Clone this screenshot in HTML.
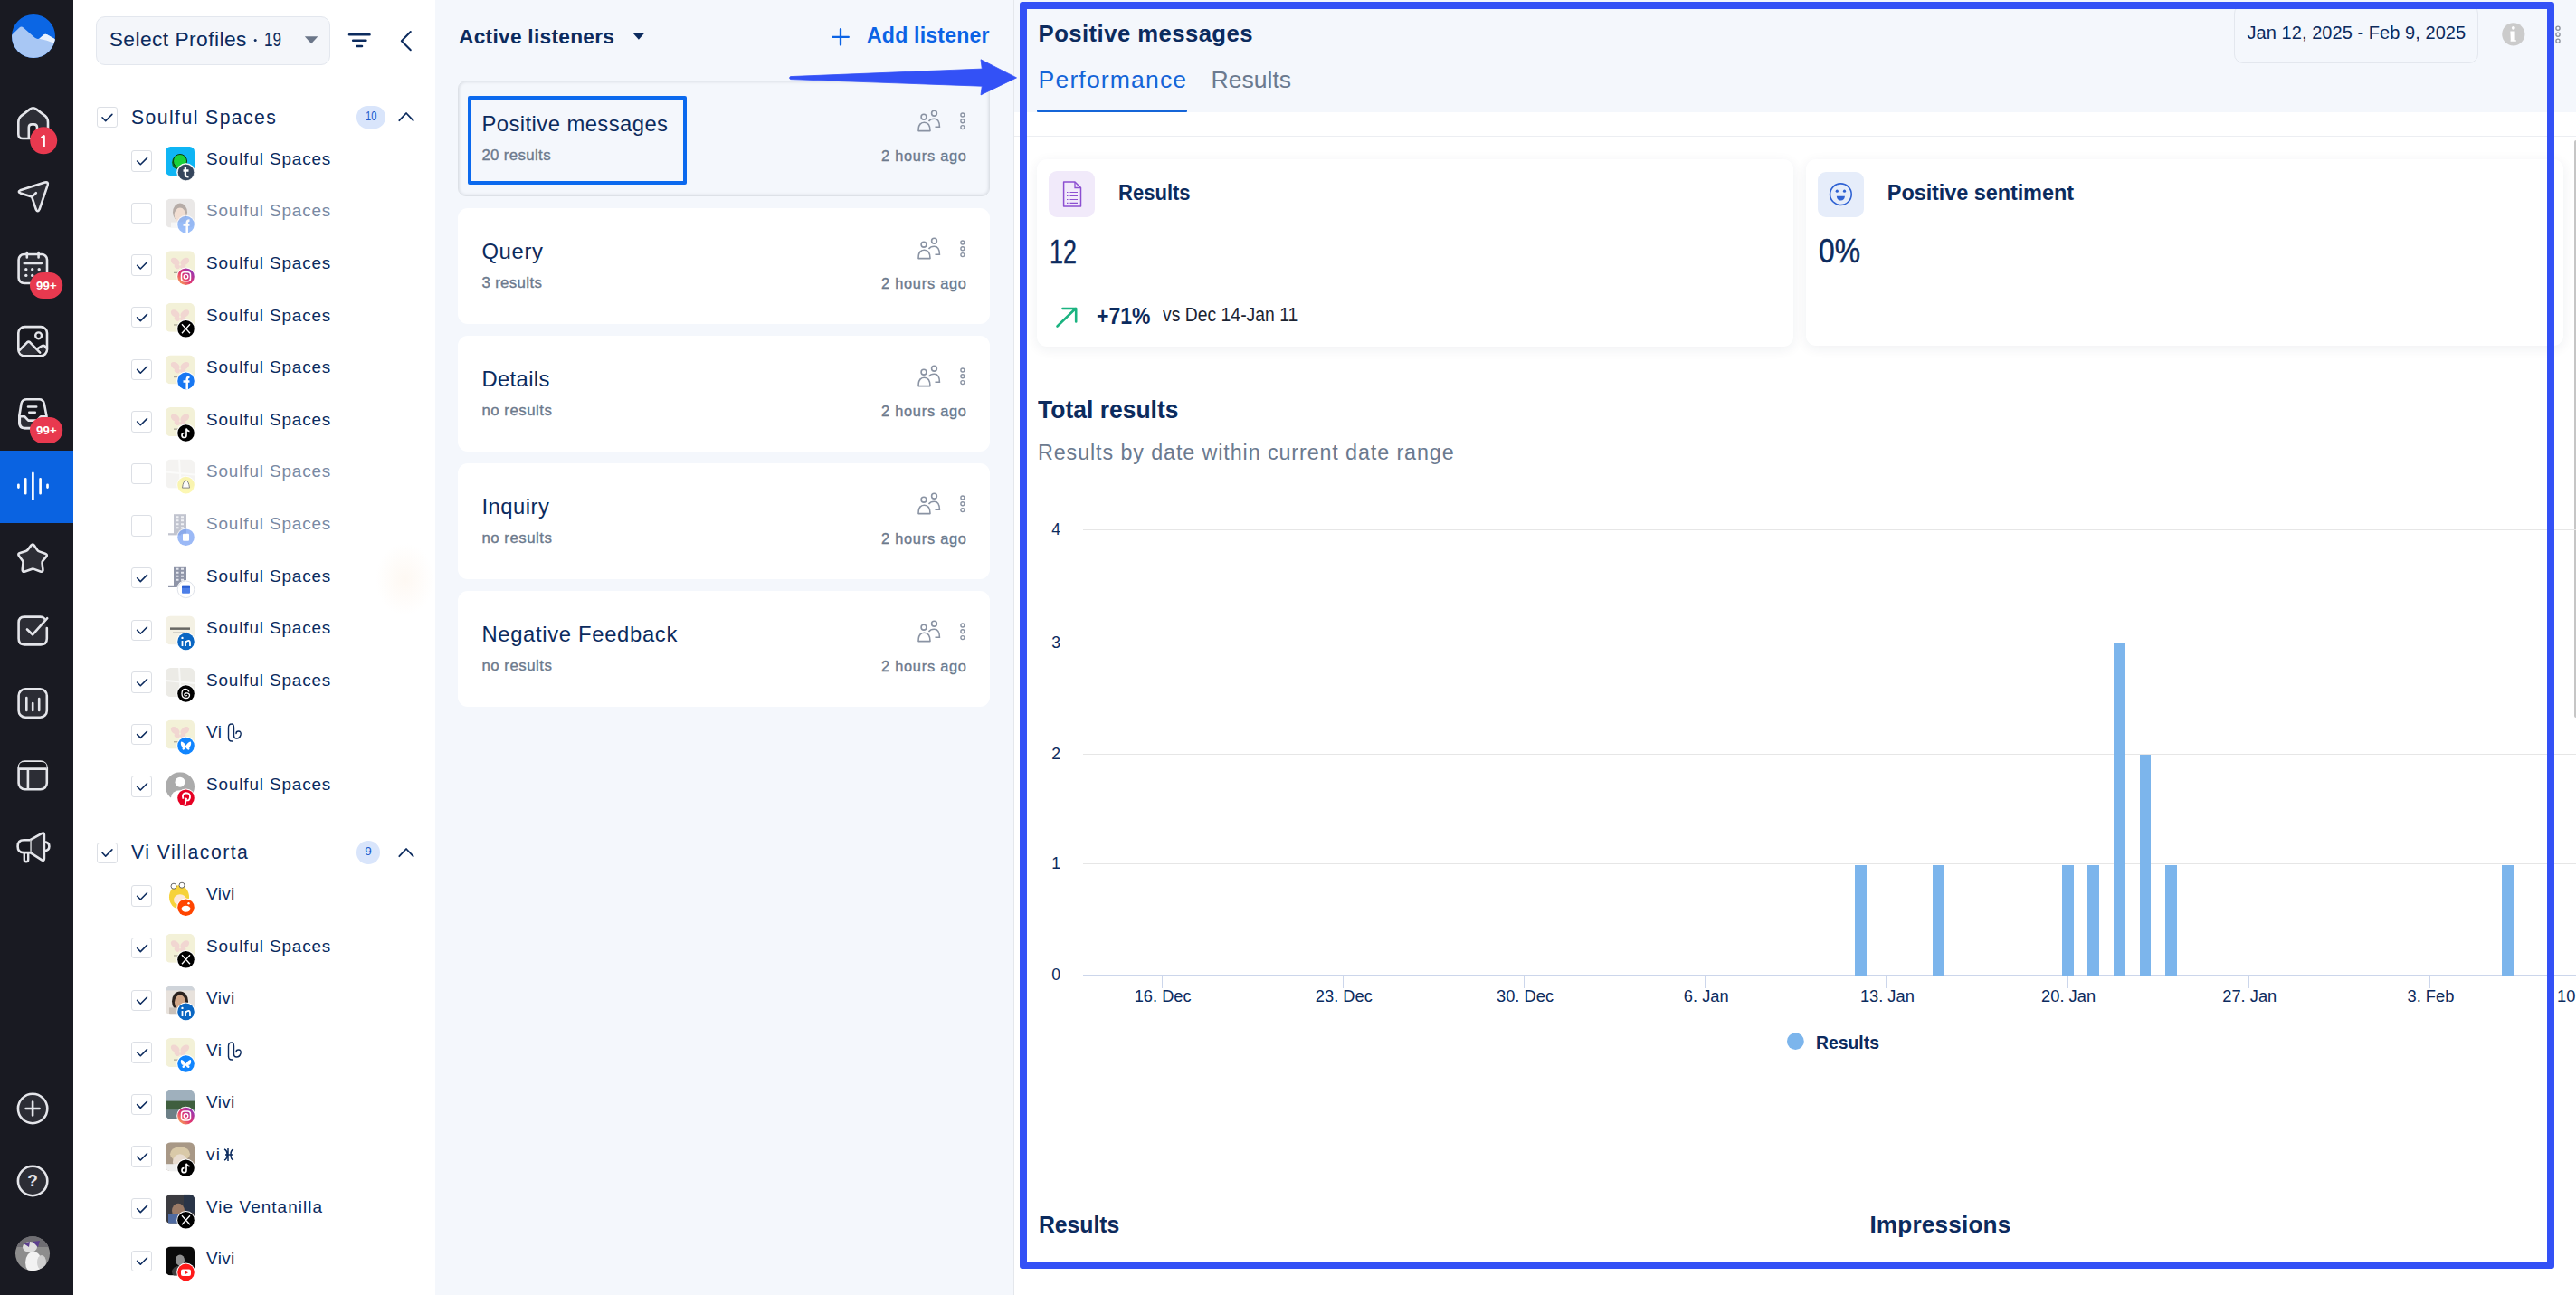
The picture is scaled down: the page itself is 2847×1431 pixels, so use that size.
<!DOCTYPE html>
<html><head><meta charset="utf-8"><style>
html,body{margin:0;padding:0;width:2847px;height:1431px;overflow:hidden;background:#fff;font-family:"Liberation Sans",sans-serif;-webkit-font-smoothing:antialiased}
.t{position:absolute;white-space:nowrap}
.b{position:absolute}
.s{position:absolute;overflow:visible}
</style></head><body>
<div class="b" style="left:0.00px;top:0.00px;width:81.00px;height:1431.00px;background:#191a22"></div>
<svg class="s" style="left:10px;top:13px;" width="54" height="54" viewBox="10 13 54 54">
<defs><clipPath id="lc"><circle cx="37" cy="40" r="24"/></clipPath></defs>
<circle cx="37" cy="40" r="24" fill="#0b66e4"/>
<g clip-path="url(#lc)">
<path d="M10,41 L13.4,38.2 L21.4,30.6 Q23.6,28.6 25.8,30.6 L38.3,41.6 Q41.8,44.2 44.3,42 L47.6,38.9 Q50,37 52.6,38.5 L62,44 L62,70 L10,70 Z" fill="#a8c7f4"/>
<path d="M43.3,42.8 L47.6,38.9 Q50,37 52.6,38.5 L61.5,43.6 L59.8,47.8 Q52,44.2 43.3,42.8 Z" fill="#eaf2fd"/>
</g></svg>
<svg class="s" style="left:10px;top:110px;" width="60" height="60" viewBox="10 110 60 60">
<path d="M20.3,135 Q20.3,131 23,128.4 L33,120.6 Q36.6,117.9 40.2,120.6 L50.3,128.4 Q53,131 53,135 L53,148.3 Q53,153 48.3,153 L25,153 Q20.3,153 20.3,148.3 Z" fill="#2c2d35" stroke="#e4e5ea" stroke-width="2.6" stroke-linejoin="round"/>
<path d="M31.8,153 L31.8,140.8 Q31.8,137.4 35.2,137.4 L37.6,137.4 Q41,137.4 41,140.8 L41,153" fill="#17181f" stroke="#e4e5ea" stroke-width="2.6"/>
<circle cx="48.2" cy="155.3" r="15" fill="#e8394f"/>
<path d="M45.6,152.2 L48.6,150.4 L48.6,162" fill="none" stroke="#fff" stroke-width="2.5" stroke-linejoin="round"/>
</svg>
<svg class="s" style="left:10px;top:190px;" width="60" height="60" viewBox="10 190 60 60">
<path d="M22.3,210.3 L49.5,201.6 Q53.8,200.5 52.6,204.6 L43.6,231.3 Q41.8,235.2 39.8,231.4 L35.2,217.6 L22.6,213.4 Q19.2,211.8 22.3,210.3 Z" fill="#2c2d35" stroke="#e4e5ea" stroke-width="2.6" stroke-linejoin="round"/>
<path d="M35.2,217.6 L39.8,213.2" stroke="#e4e5ea" stroke-width="2.6" stroke-linecap="round"/>
</svg>
<svg class="s" style="left:10px;top:265px;" width="60" height="70" viewBox="10 265 60 70">
<rect x="20.6" y="281" width="31.4" height="32" rx="6" fill="#2c2d35" stroke="#e4e5ea" stroke-width="2.6"/>
<path d="M29.8,279 L29.8,284.5 M42.6,279 L42.6,284.5 M26.8,291 L45.8,291" stroke="#e4e5ea" stroke-width="2.6" stroke-linecap="round"/>
<circle cx="28.8" cy="297.8" r="1.7" fill="#e4e5ea"/><circle cx="35.7" cy="297.8" r="1.7" fill="#e4e5ea"/><circle cx="43.2" cy="297.8" r="1.7" fill="#e4e5ea"/>
<circle cx="28.8" cy="304.4" r="1.7" fill="#e4e5ea"/><circle cx="35.7" cy="304.4" r="1.7" fill="#e4e5ea"/>
<rect x="33" y="301" width="36.2" height="29" rx="14.5" fill="#e8394f"/>
</svg>
<div class="t" style="left:39.90px;top:309.48px;font-size:13.2px;line-height:13.2px;font-weight:700;color:#fff;letter-spacing:0.200px;">99+</div>
<svg class="s" style="left:10px;top:345px;" width="60" height="60" viewBox="10 345 60 60">
<rect x="20.3" y="361.1" width="31.7" height="32.2" rx="7" fill="#17181f" stroke="#e4e5ea" stroke-width="2.6"/>
<path d="M21.5,387 L30,378.3 Q31.6,376.8 33.2,378.3 L44,389.5 L37,392 L27,392 Q22,391.5 21.5,387 Z" fill="#2c2d35"/>
<path d="M43.5,385.5 L46.5,382.8 Q48,381.4 49.6,382.8 L51.3,385 L47.5,390 Z" fill="#2c2d35"/>
<path d="M21.5,387 L30,378.3 Q31.6,376.8 33.2,378.3 L44.2,389.6 M40.5,385.8 L46.5,382.2 Q48,381.2 49.6,382.6 L51.8,385.3" fill="none" stroke="#e4e5ea" stroke-width="2.6" stroke-linecap="round" stroke-linejoin="round"/>
<circle cx="42.6" cy="370.8" r="3.4" fill="none" stroke="#e4e5ea" stroke-width="2.4"/>
</svg>
<svg class="s" style="left:10px;top:425px;" width="60" height="70" viewBox="10 425 60 70">
<path d="M23.5,446 Q24.5,441.3 29.5,441.3 L43.3,441.3 Q47.8,441.3 48.8,446 L51.4,459.5 L51.4,467 Q51.4,473.3 45,473.3 L27.5,473.3 Q21.3,473.3 21.3,467 L21.3,459.5 Z" fill="#17181f" stroke="#e4e5ea" stroke-width="2.6" stroke-linejoin="round"/>
<path d="M21.8,460.3 L27.3,460.3 L31.3,464.6 L41,464.6 L45,460.3 L51,460.3 L51,467 Q51,473 45,473 L27.5,473 Q21.8,473 21.8,467 Z" fill="#2c2d35" stroke="#e4e5ea" stroke-width="2.6" stroke-linejoin="round"/>
<path d="M31,449.5 L40.2,449.5 M32.3,455.8 L38.8,455.8" stroke="#e4e5ea" stroke-width="2.6" stroke-linecap="round"/>
<rect x="33" y="461" width="36.2" height="29" rx="14.5" fill="#e8394f"/>
</svg>
<div class="t" style="left:39.90px;top:469.48px;font-size:13.2px;line-height:13.2px;font-weight:700;color:#fff;letter-spacing:0.200px;">99+</div>
<div class="b" style="left:0.00px;top:498.00px;width:81.00px;height:80.00px;background:#0a63e1"></div>
<svg class="s" style="left:10px;top:510px;" width="60" height="55" viewBox="10 510 60 55">
<path d="M20.4,535.8 L20.4,538.6 M28.2,529.3 L28.2,545.2 M36.4,522.8 L36.4,551.8 M44.6,529.3 L44.6,545.2 M52.5,535.8 L52.5,538.6" stroke="#fff" stroke-width="2.7" stroke-linecap="round"/>
</svg>
<svg class="s" style="left:10px;top:590px;" width="60" height="55" viewBox="10 590 60 55">
<path d="M34.41,602.62 Q36.20,600.30 37.82,602.71 L41.30,607.87 Q42.00,608.90 43.32,609.37 L49.92,611.71 Q53.00,612.80 51.15,615.07 L47.19,619.93 Q46.40,620.90 46.57,622.30 L47.41,629.32 Q47.80,632.60 44.55,631.42 L37.59,628.90 Q36.20,628.40 34.78,628.90 L27.70,631.42 Q24.40,632.60 24.74,629.24 L25.46,622.04 Q25.60,620.60 24.83,619.56 L20.99,614.34 Q19.20,611.90 22.17,610.98 L28.53,609.00 Q29.80,608.60 30.57,607.60 Z" fill="#2c2d35" stroke="#e4e5ea" stroke-width="2.6" stroke-linejoin="round"/>
</svg>
<svg class="s" style="left:10px;top:670px;" width="60" height="55" viewBox="10 670 60 55">
<path d="M49,683.5 Q47.5,681.6 44.5,681.6 L27,681.6 Q20.6,681.6 20.6,688 L20.6,705.6 Q20.6,712.4 27,712.4 L45,712.4 Q51.8,712.4 51.8,705.6 L51.8,694" fill="#2c2d35" stroke="#e4e5ea" stroke-width="2.6" stroke-linecap="round"/>
<path d="M30,695.5 L36,701.3 L52.2,683.2" fill="none" stroke="#e4e5ea" stroke-width="2.6" stroke-linecap="round" stroke-linejoin="round"/>
</svg>
<svg class="s" style="left:10px;top:750px;" width="60" height="55" viewBox="10 750 60 55">
<rect x="20.6" y="761.3" width="31.2" height="31.4" rx="7.5" fill="#2c2d35" stroke="#e4e5ea" stroke-width="2.6"/>
<path d="M29.3,771 L29.3,785 M36.2,777 L36.2,785 M43.2,772 L43.2,785" stroke="#e4e5ea" stroke-width="2.6" stroke-linecap="round"/>
</svg>
<svg class="s" style="left:10px;top:830px;" width="60" height="55" viewBox="10 830 60 55">
<rect x="20.6" y="841.6" width="31.2" height="30.7" rx="7" fill="#2c2d35" stroke="#e4e5ea" stroke-width="2.6"/>
<path d="M21,849.6 L51.5,849.6" stroke="#e4e5ea" stroke-width="2.6"/>
<path d="M21,847 Q21,842 27,842 L45.5,842 Q51.5,842 51.5,847 L51.5,849.6 L21,849.6 Z" fill="#17181f"/>
<path d="M21,849.6 L51.5,849.6 M30.9,849.6 L30.9,872" stroke="#e4e5ea" stroke-width="2.6"/>
</svg>
<svg class="s" style="left:10px;top:910px;" width="60" height="55" viewBox="10 910 60 55">
<path d="M33.4,928.2 L46.3,920.9 Q48.9,919.6 48.9,922.6 L48.9,948.7 Q48.9,951.7 46.3,950.3 L33.4,942.1 Z" fill="#2c2d35" stroke="#e4e5ea" stroke-width="2.6" stroke-linejoin="round"/>
<path d="M33.4,928.2 L26.3,928.2 Q19.6,928.2 19.6,935.15 Q19.6,942.1 26.3,942.1 L33.4,942.1" fill="#17181f" stroke="#e4e5ea" stroke-width="2.6" stroke-linejoin="round"/>
<path d="M26.8,942.6 L26.8,950 Q26.8,952.2 29,952.2 Q31.2,952.2 31.2,950 L31.2,942.6" fill="none" stroke="#e4e5ea" stroke-width="2.4"/>
<path d="M48.9,930.4 Q54.4,930.6 54.4,935.3 Q54.4,940 48.9,940.2" fill="none" stroke="#e4e5ea" stroke-width="2.6"/>
</svg>
<svg class="s" style="left:10px;top:1200px;" width="60" height="130" viewBox="10 1200 60 130">
<circle cx="36.1" cy="1225" r="16.2" fill="#2c2d35" stroke="#e4e5ea" stroke-width="2.6"/>
<path d="M36.1,1217.5 L36.1,1232.5 M28.6,1225 L43.6,1225" stroke="#e4e5ea" stroke-width="2.6" stroke-linecap="round"/>
<circle cx="36.1" cy="1305" r="16.2" fill="#2c2d35" stroke="#e4e5ea" stroke-width="2.6"/>
</svg>
<div class="t" style="left:30.30px;top:1294.85px;font-size:19px;line-height:19px;font-weight:700;color:#e4e5ea;letter-spacing:0.000px;">?</div>
<svg class="s" style="left:10px;top:1360px;" width="60" height="50" viewBox="10 1360 60 50">
<defs><clipPath id="avc"><circle cx="36" cy="1385.2" r="19"/></clipPath></defs>
<circle cx="36" cy="1385.2" r="19" fill="#8d8d8d"/>
<g clip-path="url(#avc)">
<rect x="17" y="1366" width="38" height="12" fill="#6f6e73"/>
<ellipse cx="37" cy="1395" rx="9" ry="12" fill="#f2f2f2"/>
<ellipse cx="33" cy="1378" rx="8" ry="6" fill="#dedede"/>
<path d="M26,1374 L33,1372 L32,1378 Z M36,1372 L44,1371 L42,1378 Z" fill="#5b3e8e"/>
<ellipse cx="46" cy="1395" rx="5" ry="8" fill="#cfcfcf"/>
</g></svg>
<div class="b" style="left:81.00px;top:0.00px;width:400.00px;height:1431.00px;background:#ffffff"></div>
<div class="b" style="left:106.00px;top:18.00px;width:259.00px;height:54.00px;background:#f4f6fa;border:1px solid #e3e7ee;border-radius:10px;box-sizing:border-box"></div>
<div class="t" style="left:120.70px;top:32.32px;font-size:22.8px;line-height:22.8px;font-weight:400;color:#0c2b5e;letter-spacing:0.432px;">Select Profiles</div>
<svg class="s" style="left:278px;top:40px;" width="10" height="10" viewBox="278 40 10 10"><circle cx="282.2" cy="44.6" r="1.5" fill="#0c2b5e"/></svg>
<div class="t" style="left:292.00px;top:32.32px;font-size:22.8px;line-height:22.8px;font-weight:400;color:#0c2b5e;letter-spacing:0.000px;transform:scaleX(0.7495);transform-origin:0 0;">19</div>
<svg class="s" style="left:330px;top:35px;" width="30" height="20" viewBox="330 35 30 20"><path d="M336.8,40.2 L351.4,40.2 L344.1,48.2 Z" fill="#6b7689"/></svg>
<svg class="s" style="left:380px;top:30px;" width="80" height="30" viewBox="380 30 80 30">
<path d="M386,38.2 L408.5,38.2 M390.2,44.7 L404.4,44.7 M394.5,51 L400,51" stroke="#0c2b5e" stroke-width="2.6" stroke-linecap="round"/>
<path d="M453.8,35 L443.8,45.2 L453.8,55.2" fill="none" stroke="#0c2b5e" stroke-width="2" stroke-linecap="round" stroke-linejoin="round"/>
</svg>
<div class="b" style="left:106.70px;top:118.00px;width:23.20px;height:23.40px;border:1px solid #dcdfe5;border-radius:3px;box-sizing:border-box;background:#fff"></div><svg class="s" style="left:106px;top:118px;" width="25" height="25" viewBox="106 118 25 25"><path d="M113.0,129.8 L116.7,133.6 L123.9,126.4" fill="none" stroke="#0c2b5e" stroke-width="1.55" stroke-linecap="round" stroke-linejoin="round"/></svg><div class="t" style="left:145.00px;top:118.58px;font-size:21.2px;line-height:21.2px;font-weight:400;color:#0c2b5e;letter-spacing:1.427px;">Soulful Spaces</div><div class="b" style="left:394.00px;top:117.00px;width:32.00px;height:24.60px;background:#d9e5fb;border-radius:12.3px"></div><div class="t" style="left:403.80px;top:121.49px;font-size:14.6px;line-height:14.6px;font-weight:400;color:#1d5bcc;letter-spacing:0.000px;transform:scaleX(0.7631);transform-origin:0 0;">10</div><svg class="s" style="left:436px;top:118px;" width="26" height="20" viewBox="436 118 26 20"><path d="M441.3,133.2 L449,125 L456.7,133.2" fill="none" stroke="#0c2b5e" stroke-width="1.8" stroke-linecap="round" stroke-linejoin="round"/></svg>
<div class="b" style="left:106.70px;top:930.50px;width:23.20px;height:23.40px;border:1px solid #dcdfe5;border-radius:3px;box-sizing:border-box;background:#fff"></div><svg class="s" style="left:106px;top:930px;" width="25" height="25" viewBox="106 930 25 25"><path d="M113.0,942.3 L116.7,946.1 L123.9,938.9" fill="none" stroke="#0c2b5e" stroke-width="1.55" stroke-linecap="round" stroke-linejoin="round"/></svg><div class="t" style="left:145.00px;top:931.08px;font-size:21.2px;line-height:21.2px;font-weight:400;color:#0c2b5e;letter-spacing:1.483px;">Vi Villacorta</div><div class="b" style="left:394.30px;top:929.00px;width:25.40px;height:25.50px;background:#d9e5fb;border-radius:50%"></div><div class="t" style="left:403.25px;top:934.12px;font-size:13.5px;line-height:13.5px;font-weight:400;color:#1d5bcc;letter-spacing:0.000px;">9</div><svg class="s" style="left:436px;top:930.5px;" width="26" height="20" viewBox="436 930.5 26 20"><path d="M441.3,945.7 L449,937.5 L456.7,945.7" fill="none" stroke="#0c2b5e" stroke-width="1.8" stroke-linecap="round" stroke-linejoin="round"/></svg>
<div class="b" style="left:145.30px;top:166.20px;width:23.20px;height:23.40px;border:1px solid #dcdfe5;border-radius:3px;box-sizing:border-box;background:#fff"></div><svg class="s" style="left:145px;top:166px;" width="25" height="25" viewBox="145 166 25 25"><path d="M151.60000000000002,178.0 L155.3,181.79999999999998 L162.5,174.6" fill="none" stroke="#0c2b5e" stroke-width="1.55" stroke-linecap="round" stroke-linejoin="round"/></svg><svg class="s" style="left:183px;top:162px;" width="34" height="34" viewBox="183 162 34 34"><defs><clipPath id="avc162"><rect x="183" y="162.0" width="32" height="32" rx="5.5"/></clipPath></defs><g clip-path="url(#avc162)"><rect x="183" y="162.0" width="32" height="32" fill="#0fb5f4"/><circle cx="198" cy="179.5" r="8" fill="#0e6e1d"/><circle cx="199" cy="178.0" r="7.5" fill="#1ad13a" stroke="#0a3a10" stroke-width="1"/></g></svg><svg class="s" style="left:194px;top:179px;" width="22" height="22" viewBox="194 179 22 22"><circle cx="205.5" cy="190.5" r="10.3" fill="#fff"/><circle cx="205.5" cy="190.5" r="9.3" fill="#36465d" stroke="#fff" stroke-width="0.8"/><path d="M204.9,185.0 L204.9,193.0 Q204.9,195.5 208.5,195.3 M202.5,188.5 L208.5,188.5" fill="none" stroke="#fff" stroke-width="2.3"/></svg><div class="t" style="left:228.00px;top:166.73px;font-size:18.9px;line-height:18.9px;font-weight:400;color:#0c2b5e;letter-spacing:0.869px;">Soulful Spaces</div><div class="b" style="left:145.30px;top:223.80px;width:23.20px;height:23.40px;border:1px solid #dcdfe5;border-radius:3px;box-sizing:border-box;background:#fff"></div><svg class="s" style="opacity:0.55;left:183px;top:219px;" width="34" height="34" viewBox="183 219 34 34"><defs><clipPath id="avc219"><rect x="183" y="219.6" width="32" height="32" rx="5.5"/></clipPath></defs><g clip-path="url(#avc219)"><rect x="183" y="219.6" width="32" height="32" fill="#d9d7d5"/><ellipse cx="199" cy="234.6" rx="8" ry="10" fill="#7b6a60"/><ellipse cx="199" cy="237.6" rx="6.3" ry="8" fill="#e6c4ae"/><rect x="189" y="245.6" width="20" height="8" fill="#f0efef"/></g></svg><svg class="s" style="opacity:0.75;left:194px;top:237px;" width="22" height="22" viewBox="194 237 22 22"><circle cx="205.5" cy="248.1" r="10.3" fill="#fff"/><circle cx="205.5" cy="248.1" r="9.3" fill="#7aa9f7"/><path d="M206.7,257.3 L206.7,246.6 Q206.7,243.6 209.5,243.6 M202.5,248.6 L209.5,248.6" fill="none" stroke="#fff" stroke-width="2.5"/></svg><div class="t" style="left:228.00px;top:224.33px;font-size:18.9px;line-height:18.9px;font-weight:400;color:#7a89a3;letter-spacing:0.869px;">Soulful Spaces</div><div class="b" style="left:145.30px;top:281.40px;width:23.20px;height:23.40px;border:1px solid #dcdfe5;border-radius:3px;box-sizing:border-box;background:#fff"></div><svg class="s" style="left:145px;top:281px;" width="25" height="25" viewBox="145 281 25 25"><path d="M151.60000000000002,293.2 L155.3,297.0 L162.5,289.79999999999995" fill="none" stroke="#0c2b5e" stroke-width="1.55" stroke-linecap="round" stroke-linejoin="round"/></svg><svg class="s" style="left:183px;top:277px;" width="34" height="34" viewBox="183 277 34 34"><defs><clipPath id="avc277"><rect x="183" y="277.2" width="32" height="32" rx="5.5"/></clipPath></defs><g clip-path="url(#avc277)"><rect x="183" y="277.2" width="32" height="32" fill="#f3f1d8"/><g opacity="0.55" fill="#eebfcd"><ellipse cx="193.7" cy="289.0" rx="5.4" ry="3.6" transform="rotate(35 193.7 289.0)"/><ellipse cx="204.3" cy="289.0" rx="5.4" ry="3.6" transform="rotate(-35 204.3 289.0)"/><ellipse cx="195.8" cy="294.4" rx="3.2" ry="2.6" transform="rotate(30 195.8 294.4)"/><ellipse cx="202.2" cy="294.4" rx="3.2" ry="2.6" transform="rotate(-30 202.2 294.4)"/></g><rect x="192" y="300.7" width="9" height="1.3" fill="#7d7a6c" opacity="0.6"/></g></svg><svg class="s" style="left:194px;top:294px;" width="22" height="22" viewBox="194 294 22 22"><circle cx="205.5" cy="305.7" r="10.3" fill="#fff"/><defs><linearGradient id="ig305" x1="0" y1="1" x2="1" y2="0"><stop offset="0" stop-color="#fdc151"/><stop offset="0.45" stop-color="#e3366f"/><stop offset="1" stop-color="#7a35c9"/></linearGradient></defs><circle cx="205.5" cy="305.7" r="9.3" fill="url(#ig305)"/><rect x="200.5" y="300.7" width="10" height="10" rx="3" fill="none" stroke="#fff" stroke-width="1.5"/><circle cx="205.5" cy="305.7" r="2.3" fill="none" stroke="#fff" stroke-width="1.4"/></svg><div class="t" style="left:228.00px;top:281.94px;font-size:18.9px;line-height:18.9px;font-weight:400;color:#0c2b5e;letter-spacing:0.869px;">Soulful Spaces</div><div class="b" style="left:145.30px;top:339.00px;width:23.20px;height:23.40px;border:1px solid #dcdfe5;border-radius:3px;box-sizing:border-box;background:#fff"></div><svg class="s" style="left:145px;top:339px;" width="25" height="25" viewBox="145 339 25 25"><path d="M151.60000000000002,350.8 L155.3,354.6 L162.5,347.4" fill="none" stroke="#0c2b5e" stroke-width="1.55" stroke-linecap="round" stroke-linejoin="round"/></svg><svg class="s" style="left:183px;top:334px;" width="34" height="34" viewBox="183 334 34 34"><defs><clipPath id="avc334"><rect x="183" y="334.8" width="32" height="32" rx="5.5"/></clipPath></defs><g clip-path="url(#avc334)"><rect x="183" y="334.8" width="32" height="32" fill="#f3f1d8"/><g opacity="0.55" fill="#eebfcd"><ellipse cx="193.7" cy="346.6" rx="5.4" ry="3.6" transform="rotate(35 193.7 346.6)"/><ellipse cx="204.3" cy="346.6" rx="5.4" ry="3.6" transform="rotate(-35 204.3 346.6)"/><ellipse cx="195.8" cy="352.0" rx="3.2" ry="2.6" transform="rotate(30 195.8 352.0)"/><ellipse cx="202.2" cy="352.0" rx="3.2" ry="2.6" transform="rotate(-30 202.2 352.0)"/></g><rect x="192" y="358.3" width="9" height="1.3" fill="#7d7a6c" opacity="0.6"/></g></svg><svg class="s" style="left:194px;top:352px;" width="22" height="22" viewBox="194 352 22 22"><circle cx="205.5" cy="363.3" r="10.3" fill="#fff"/><circle cx="205.5" cy="363.3" r="9.3" fill="#000"/><path d="M201.0,358.3 L210.0,368.3 M210.0,358.3 L201.0,368.3" stroke="#fff" stroke-width="1.3"/></svg><div class="t" style="left:228.00px;top:339.54px;font-size:18.9px;line-height:18.9px;font-weight:400;color:#0c2b5e;letter-spacing:0.869px;">Soulful Spaces</div><div class="b" style="left:145.30px;top:396.60px;width:23.20px;height:23.40px;border:1px solid #dcdfe5;border-radius:3px;box-sizing:border-box;background:#fff"></div><svg class="s" style="left:145px;top:396px;" width="25" height="25" viewBox="145 396 25 25"><path d="M151.60000000000002,408.40000000000003 L155.3,412.20000000000005 L162.5,405.0" fill="none" stroke="#0c2b5e" stroke-width="1.55" stroke-linecap="round" stroke-linejoin="round"/></svg><svg class="s" style="left:183px;top:392px;" width="34" height="34" viewBox="183 392 34 34"><defs><clipPath id="avc392"><rect x="183" y="392.40000000000003" width="32" height="32" rx="5.5"/></clipPath></defs><g clip-path="url(#avc392)"><rect x="183" y="392.40000000000003" width="32" height="32" fill="#f3f1d8"/><g opacity="0.55" fill="#eebfcd"><ellipse cx="193.7" cy="404.20000000000005" rx="5.4" ry="3.6" transform="rotate(35 193.7 404.20000000000005)"/><ellipse cx="204.3" cy="404.20000000000005" rx="5.4" ry="3.6" transform="rotate(-35 204.3 404.20000000000005)"/><ellipse cx="195.8" cy="409.6" rx="3.2" ry="2.6" transform="rotate(30 195.8 409.6)"/><ellipse cx="202.2" cy="409.6" rx="3.2" ry="2.6" transform="rotate(-30 202.2 409.6)"/></g><rect x="192" y="415.90000000000003" width="9" height="1.3" fill="#7d7a6c" opacity="0.6"/></g></svg><svg class="s" style="left:194px;top:409px;" width="22" height="22" viewBox="194 409 22 22"><circle cx="205.5" cy="420.90000000000003" r="10.3" fill="#fff"/><circle cx="205.5" cy="420.90000000000003" r="9.3" fill="#1877f2"/><path d="M206.7,430.1 L206.7,419.40000000000003 Q206.7,416.40000000000003 209.5,416.40000000000003 M202.5,421.40000000000003 L209.5,421.40000000000003" fill="none" stroke="#fff" stroke-width="2.5"/></svg><div class="t" style="left:228.00px;top:397.14px;font-size:18.9px;line-height:18.9px;font-weight:400;color:#0c2b5e;letter-spacing:0.869px;">Soulful Spaces</div><div class="b" style="left:145.30px;top:454.20px;width:23.20px;height:23.40px;border:1px solid #dcdfe5;border-radius:3px;box-sizing:border-box;background:#fff"></div><svg class="s" style="left:145px;top:454px;" width="25" height="25" viewBox="145 454 25 25"><path d="M151.60000000000002,466.0 L155.3,469.8 L162.5,462.59999999999997" fill="none" stroke="#0c2b5e" stroke-width="1.55" stroke-linecap="round" stroke-linejoin="round"/></svg><svg class="s" style="left:183px;top:450px;" width="34" height="34" viewBox="183 450 34 34"><defs><clipPath id="avc450"><rect x="183" y="450.0" width="32" height="32" rx="5.5"/></clipPath></defs><g clip-path="url(#avc450)"><rect x="183" y="450.0" width="32" height="32" fill="#f3f1d8"/><g opacity="0.55" fill="#eebfcd"><ellipse cx="193.7" cy="461.8" rx="5.4" ry="3.6" transform="rotate(35 193.7 461.8)"/><ellipse cx="204.3" cy="461.8" rx="5.4" ry="3.6" transform="rotate(-35 204.3 461.8)"/><ellipse cx="195.8" cy="467.2" rx="3.2" ry="2.6" transform="rotate(30 195.8 467.2)"/><ellipse cx="202.2" cy="467.2" rx="3.2" ry="2.6" transform="rotate(-30 202.2 467.2)"/></g><rect x="192" y="473.5" width="9" height="1.3" fill="#7d7a6c" opacity="0.6"/></g></svg><svg class="s" style="left:194px;top:467px;" width="22" height="22" viewBox="194 467 22 22"><circle cx="205.5" cy="478.5" r="10.3" fill="#fff"/><circle cx="205.5" cy="478.5" r="9.3" fill="#000"/><path d="M206.0,473.5 L206.0,481.0 Q206.0,483.5 203.5,483.5 Q201.0,483.5 201.0,481.0 Q201.0,478.5 203.5,478.5 M206.0,473.5 Q207.0,476.5 209.5,476.5" fill="none" stroke="#fff" stroke-width="1.7"/></svg><div class="t" style="left:228.00px;top:454.74px;font-size:18.9px;line-height:18.9px;font-weight:400;color:#0c2b5e;letter-spacing:0.869px;">Soulful Spaces</div><div class="b" style="left:145.30px;top:511.80px;width:23.20px;height:23.40px;border:1px solid #dcdfe5;border-radius:3px;box-sizing:border-box;background:#fff"></div><svg class="s" style="opacity:0.55;left:183px;top:507px;" width="34" height="34" viewBox="183 507 34 34"><defs><clipPath id="avc507"><rect x="183" y="507.6" width="32" height="32" rx="5.5"/></clipPath></defs><g clip-path="url(#avc507)"><rect x="183" y="507.6" width="32" height="32" fill="#ecebe6"/><path d="M183,521.6 L215,524.6 M198,507.6 L200,539.6" stroke="#f8f8f6" stroke-width="2"/></g></svg><svg class="s" style="opacity:0.75;left:194px;top:525px;" width="22" height="22" viewBox="194 525 22 22"><circle cx="205.5" cy="536.1" r="10.3" fill="#fff"/><circle cx="205.5" cy="536.1" r="9.3" fill="#fbf59a"/><path d="M201.5,539.1 Q202.5,531.1 205.5,531.1 Q208.5,531.1 209.5,539.1 L201.5,539.1 Z" fill="#fff" stroke="#555" stroke-width="0.9"/></svg><div class="t" style="left:228.00px;top:512.34px;font-size:18.9px;line-height:18.9px;font-weight:400;color:#7a89a3;letter-spacing:0.869px;">Soulful Spaces</div><div class="b" style="left:145.30px;top:569.40px;width:23.20px;height:23.40px;border:1px solid #dcdfe5;border-radius:3px;box-sizing:border-box;background:#fff"></div><svg class="s" style="opacity:0.55;left:183px;top:565px;" width="34" height="34" viewBox="183 565 34 34"><defs><clipPath id="avc565"><rect x="183" y="565.1999999999999" width="32" height="32" rx="5.5"/></clipPath></defs><g clip-path="url(#avc565)"><rect x="183" y="565.1999999999999" width="32" height="32" fill="#ffffff"/><rect x="192" y="568.1999999999999" width="14" height="22" fill="#8f95a8"/><path d="M194.5,571.1999999999999 h3 M200,571.1999999999999 h3 M194.5,575.1999999999999 h3 M200,575.1999999999999 h3 M194.5,579.1999999999999 h3 M200,579.1999999999999 h3 M194.5,583.1999999999999 h3 M200,583.1999999999999 h3" stroke="#e5e7ee" stroke-width="2"/><rect x="186" y="589.1999999999999" width="14" height="2.2" fill="#8f95a8"/></g></svg><svg class="s" style="opacity:0.75;left:194px;top:582px;" width="22" height="22" viewBox="194 582 22 22"><circle cx="205.5" cy="593.6999999999999" r="10.3" fill="#fff"/><circle cx="205.5" cy="593.6999999999999" r="9.3" fill="#7aa2f4"/><rect x="202.0" y="589.6999999999999" width="7" height="8" rx="1" fill="#fff"/></svg><div class="t" style="left:228.00px;top:569.93px;font-size:18.9px;line-height:18.9px;font-weight:400;color:#7a89a3;letter-spacing:0.869px;">Soulful Spaces</div><div class="b" style="left:145.30px;top:627.00px;width:23.20px;height:23.40px;border:1px solid #dcdfe5;border-radius:3px;box-sizing:border-box;background:#fff"></div><svg class="s" style="left:145px;top:627px;" width="25" height="25" viewBox="145 627 25 25"><path d="M151.60000000000002,638.8 L155.3,642.6 L162.5,635.4" fill="none" stroke="#0c2b5e" stroke-width="1.55" stroke-linecap="round" stroke-linejoin="round"/></svg><svg class="s" style="left:183px;top:622px;" width="34" height="34" viewBox="183 622 34 34"><defs><clipPath id="avc622"><rect x="183" y="622.8" width="32" height="32" rx="5.5"/></clipPath></defs><g clip-path="url(#avc622)"><rect x="183" y="622.8" width="32" height="32" fill="#ffffff"/><rect x="192" y="625.8" width="14" height="22" fill="#8f95a8"/><path d="M194.5,628.8 h3 M200,628.8 h3 M194.5,632.8 h3 M200,632.8 h3 M194.5,636.8 h3 M200,636.8 h3 M194.5,640.8 h3 M200,640.8 h3" stroke="#e5e7ee" stroke-width="2"/><rect x="186" y="646.8" width="14" height="2.2" fill="#8f95a8"/></g></svg><svg class="s" style="left:194px;top:640px;" width="22" height="22" viewBox="194 640 22 22"><circle cx="205.5" cy="651.3" r="10.3" fill="#fff"/><circle cx="205.5" cy="651.3" r="9.3" fill="#fff" stroke="#dfe3ea" stroke-width="1"/><rect x="201.0" y="646.8" width="9" height="9" rx="1" fill="#4d7fe8"/><rect x="201.0" y="646.8" width="9" height="3" fill="#2b5fd0"/></svg><div class="t" style="left:228.00px;top:627.54px;font-size:18.9px;line-height:18.9px;font-weight:400;color:#0c2b5e;letter-spacing:0.869px;">Soulful Spaces</div><div class="b" style="left:145.30px;top:684.60px;width:23.20px;height:23.40px;border:1px solid #dcdfe5;border-radius:3px;box-sizing:border-box;background:#fff"></div><svg class="s" style="left:145px;top:684px;" width="25" height="25" viewBox="145 684 25 25"><path d="M151.60000000000002,696.3999999999999 L155.3,700.1999999999999 L162.5,692.9999999999999" fill="none" stroke="#0c2b5e" stroke-width="1.55" stroke-linecap="round" stroke-linejoin="round"/></svg><svg class="s" style="left:183px;top:680px;" width="34" height="34" viewBox="183 680 34 34"><defs><clipPath id="avc680"><rect x="183" y="680.3999999999999" width="32" height="32" rx="5.5"/></clipPath></defs><g clip-path="url(#avc680)"><rect x="183" y="680.3999999999999" width="32" height="32" fill="#f4f1e4"/><rect x="188" y="693.3999999999999" width="22" height="2.5" fill="#3a3a3a" opacity="0.75"/><rect x="191" y="698.3999999999999" width="16" height="1" fill="#888" opacity="0.5"/></g></svg><svg class="s" style="left:194px;top:697px;" width="22" height="22" viewBox="194 697 22 22"><circle cx="205.5" cy="708.8999999999999" r="10.3" fill="#fff"/><circle cx="205.5" cy="708.8999999999999" r="9.3" fill="#0a66c2"/><path d="M201.5,707.8999999999999 L201.5,713.8999999999999 M205.0,713.8999999999999 L205.0,707.8999999999999 M205.0,710.3999999999999 Q206.5,707.6999999999998 208.5,707.8999999999999 Q210.0,708.0999999999999 210.0,710.3999999999999 L210.0,713.8999999999999" fill="none" stroke="#fff" stroke-width="1.8"/><circle cx="201.5" cy="704.8999999999999" r="1.2" fill="#fff"/></svg><div class="t" style="left:228.00px;top:685.13px;font-size:18.9px;line-height:18.9px;font-weight:400;color:#0c2b5e;letter-spacing:0.869px;">Soulful Spaces</div><div class="b" style="left:145.30px;top:742.20px;width:23.20px;height:23.40px;border:1px solid #dcdfe5;border-radius:3px;box-sizing:border-box;background:#fff"></div><svg class="s" style="left:145px;top:742px;" width="25" height="25" viewBox="145 742 25 25"><path d="M151.60000000000002,754.0 L155.3,757.8000000000001 L162.5,750.6" fill="none" stroke="#0c2b5e" stroke-width="1.55" stroke-linecap="round" stroke-linejoin="round"/></svg><svg class="s" style="left:183px;top:738px;" width="34" height="34" viewBox="183 738 34 34"><defs><clipPath id="avc738"><rect x="183" y="738.0" width="32" height="32" rx="5.5"/></clipPath></defs><g clip-path="url(#avc738)"><rect x="183" y="738.0" width="32" height="32" fill="#ecebe6"/><path d="M183,752.0 L215,755.0 M198,738.0 L200,770.0" stroke="#f8f8f6" stroke-width="2"/></g></svg><svg class="s" style="left:194px;top:755px;" width="22" height="22" viewBox="194 755 22 22"><circle cx="205.5" cy="766.5" r="10.3" fill="#fff"/><circle cx="205.5" cy="766.5" r="9.3" fill="#000"/><path d="M209.0,764.5 Q207.5,761.5 205.0,761.5 Q201.0,761.5 201.0,766.5 Q201.0,771.5 205.5,771.5 Q209.5,771.5 209.5,768.0 Q209.0,765.5 205.5,766.0 Q203.5,766.5 204.0,768.0 Q204.5,769.5 207.0,768.5" fill="none" stroke="#fff" stroke-width="1.3"/></svg><div class="t" style="left:228.00px;top:742.74px;font-size:18.9px;line-height:18.9px;font-weight:400;color:#0c2b5e;letter-spacing:0.869px;">Soulful Spaces</div><div class="b" style="left:145.30px;top:799.80px;width:23.20px;height:23.40px;border:1px solid #dcdfe5;border-radius:3px;box-sizing:border-box;background:#fff"></div><svg class="s" style="left:145px;top:799px;" width="25" height="25" viewBox="145 799 25 25"><path d="M151.60000000000002,811.5999999999999 L155.3,815.4 L162.5,808.1999999999999" fill="none" stroke="#0c2b5e" stroke-width="1.55" stroke-linecap="round" stroke-linejoin="round"/></svg><svg class="s" style="left:183px;top:795px;" width="34" height="34" viewBox="183 795 34 34"><defs><clipPath id="avc795"><rect x="183" y="795.5999999999999" width="32" height="32" rx="5.5"/></clipPath></defs><g clip-path="url(#avc795)"><rect x="183" y="795.5999999999999" width="32" height="32" fill="#f3f1d8"/><g opacity="0.55" fill="#eebfcd"><ellipse cx="193.7" cy="807.3999999999999" rx="5.4" ry="3.6" transform="rotate(35 193.7 807.3999999999999)"/><ellipse cx="204.3" cy="807.3999999999999" rx="5.4" ry="3.6" transform="rotate(-35 204.3 807.3999999999999)"/><ellipse cx="195.8" cy="812.8" rx="3.2" ry="2.6" transform="rotate(30 195.8 812.8)"/><ellipse cx="202.2" cy="812.8" rx="3.2" ry="2.6" transform="rotate(-30 202.2 812.8)"/></g><rect x="192" y="819.0999999999999" width="9" height="1.3" fill="#7d7a6c" opacity="0.6"/></g></svg><svg class="s" style="left:194px;top:813px;" width="22" height="22" viewBox="194 813 22 22"><circle cx="205.5" cy="824.0999999999999" r="10.3" fill="#fff"/><circle cx="205.5" cy="824.0999999999999" r="9.3" fill="#1185fe"/><path d="M205.5,824.0999999999999 Q203.5,820.0999999999999 200.5,819.5999999999999 Q199.5,819.5999999999999 200.0,823.0999999999999 Q200.5,825.5999999999999 203.0,825.5999999999999 Q200.5,826.5999999999999 202.0,828.5999999999999 Q204.0,829.0999999999999 205.5,826.0999999999999 Q207.0,829.0999999999999 209.0,828.5999999999999 Q210.5,826.5999999999999 208.0,825.5999999999999 Q210.5,825.5999999999999 211.0,823.0999999999999 Q211.5,819.5999999999999 210.5,819.5999999999999 Q207.5,820.0999999999999 205.5,824.0999999999999 Z" fill="#fff"/></svg><div class="t" style="left:228.00px;top:800.34px;font-size:18.9px;line-height:18.9px;font-weight:400;color:#0c2b5e;letter-spacing:0.550px;">Vi</div><svg class="s" style="left:246px;top:796.4px;" width="30" height="28" viewBox="246 796.4 30 28"><path d="M252.5,815.4 L252.5,804.4 Q252.5,800.4 256,800.4 Q258.5,800.4 258.5,804.4 L258.5,813.4 Q258.5,816.4 261.5,816.4 Q265,816.4 266,812.4 Q266.8,808.4 263.5,808.4 Q261,808.4 261,810.9" fill="none" stroke="#0c2b5e" stroke-width="1.4" stroke-linecap="round"/><path d="M252.5,815.4 Q252.5,819.4 256,819.4 L258,819.4" fill="none" stroke="#0c2b5e" stroke-width="1.4"/></svg><div class="b" style="left:145.30px;top:857.40px;width:23.20px;height:23.40px;border:1px solid #dcdfe5;border-radius:3px;box-sizing:border-box;background:#fff"></div><svg class="s" style="left:145px;top:857px;" width="25" height="25" viewBox="145 857 25 25"><path d="M151.60000000000002,869.2 L155.3,873.0000000000001 L162.5,865.8000000000001" fill="none" stroke="#0c2b5e" stroke-width="1.55" stroke-linecap="round" stroke-linejoin="round"/></svg><svg class="s" style="left:183px;top:853px;" width="34" height="34" viewBox="183 853 34 34"><defs><clipPath id="avc853"><rect x="183" y="853.2" width="32" height="32" rx="5.5"/></clipPath></defs><g clip-path="url(#avc853)"><circle cx="199" cy="869.2" r="16" fill="#ababab"/><circle cx="199" cy="864.2" r="5.5" fill="#fff"/><ellipse cx="199" cy="881.2" rx="10" ry="8" fill="#fff"/></g></svg><svg class="s" style="left:194px;top:870px;" width="22" height="22" viewBox="194 870 22 22"><circle cx="205.5" cy="881.7" r="10.3" fill="#fff"/><circle cx="205.5" cy="881.7" r="9.3" fill="#e60023"/><path d="M204.5,889.7 L206.0,881.7 M202.5,882.7 Q200.5,876.7 205.5,876.2 Q210.5,876.2 210.0,881.2 Q209.5,885.2 206.0,884.2" fill="none" stroke="#fff" stroke-width="1.9"/></svg><div class="t" style="left:228.00px;top:857.94px;font-size:18.9px;line-height:18.9px;font-weight:400;color:#0c2b5e;letter-spacing:0.869px;">Soulful Spaces</div>
<div class="b" style="left:145.30px;top:978.40px;width:23.20px;height:23.40px;border:1px solid #dcdfe5;border-radius:3px;box-sizing:border-box;background:#fff"></div><svg class="s" style="left:145px;top:978px;" width="25" height="25" viewBox="145 978 25 25"><path d="M151.60000000000002,990.1999999999999 L155.3,994.0 L162.5,986.8" fill="none" stroke="#0c2b5e" stroke-width="1.55" stroke-linecap="round" stroke-linejoin="round"/></svg><svg class="s" style="left:183px;top:974px;" width="34" height="34" viewBox="183 974 34 34"><defs><clipPath id="avc974"><rect x="183" y="974.1999999999999" width="32" height="32" rx="5.5"/></clipPath></defs><g clip-path="url(#avc974)"><rect x="183" y="974.1999999999999" width="32" height="32" fill="#ffffff"/><ellipse cx="198" cy="991.1999999999999" rx="11" ry="13" fill="#f6d23a"/><ellipse cx="199" cy="994.1999999999999" rx="7" ry="6" fill="#fde9d9"/><circle cx="192" cy="979.1999999999999" r="3" fill="#fff" stroke="#444" stroke-width="0.8"/><circle cx="201" cy="978.1999999999999" r="3" fill="#fff" stroke="#444" stroke-width="0.8"/></g></svg><svg class="s" style="left:194px;top:991px;" width="22" height="22" viewBox="194 991 22 22"><circle cx="205.5" cy="1002.6999999999999" r="10.3" fill="#fff"/><circle cx="205.5" cy="1002.6999999999999" r="9.3" fill="#ff4500"/><ellipse cx="205.5" cy="1004.1999999999999" rx="5" ry="3.5" fill="#fff"/><circle cx="208.5" cy="998.1999999999999" r="1.2" fill="#fff"/></svg><div class="t" style="left:228.00px;top:978.93px;font-size:18.9px;line-height:18.9px;font-weight:400;color:#0c2b5e;letter-spacing:0.367px;">Vivi</div><div class="b" style="left:145.30px;top:1036.00px;width:23.20px;height:23.40px;border:1px solid #dcdfe5;border-radius:3px;box-sizing:border-box;background:#fff"></div><svg class="s" style="left:145px;top:1036px;" width="25" height="25" viewBox="145 1036 25 25"><path d="M151.60000000000002,1047.8 L155.3,1051.6 L162.5,1044.4" fill="none" stroke="#0c2b5e" stroke-width="1.55" stroke-linecap="round" stroke-linejoin="round"/></svg><svg class="s" style="left:183px;top:1031px;" width="34" height="34" viewBox="183 1031 34 34"><defs><clipPath id="avc1031"><rect x="183" y="1031.8" width="32" height="32" rx="5.5"/></clipPath></defs><g clip-path="url(#avc1031)"><rect x="183" y="1031.8" width="32" height="32" fill="#f3f1d8"/><g opacity="0.55" fill="#eebfcd"><ellipse cx="193.7" cy="1043.6" rx="5.4" ry="3.6" transform="rotate(35 193.7 1043.6)"/><ellipse cx="204.3" cy="1043.6" rx="5.4" ry="3.6" transform="rotate(-35 204.3 1043.6)"/><ellipse cx="195.8" cy="1049.0" rx="3.2" ry="2.6" transform="rotate(30 195.8 1049.0)"/><ellipse cx="202.2" cy="1049.0" rx="3.2" ry="2.6" transform="rotate(-30 202.2 1049.0)"/></g><rect x="192" y="1055.3" width="9" height="1.3" fill="#7d7a6c" opacity="0.6"/></g></svg><svg class="s" style="left:194px;top:1049px;" width="22" height="22" viewBox="194 1049 22 22"><circle cx="205.5" cy="1060.3" r="10.3" fill="#fff"/><circle cx="205.5" cy="1060.3" r="9.3" fill="#000"/><path d="M201.0,1055.3 L210.0,1065.3 M210.0,1055.3 L201.0,1065.3" stroke="#fff" stroke-width="1.3"/></svg><div class="t" style="left:228.00px;top:1036.53px;font-size:18.9px;line-height:18.9px;font-weight:400;color:#0c2b5e;letter-spacing:0.869px;">Soulful Spaces</div><div class="b" style="left:145.30px;top:1093.60px;width:23.20px;height:23.40px;border:1px solid #dcdfe5;border-radius:3px;box-sizing:border-box;background:#fff"></div><svg class="s" style="left:145px;top:1093px;" width="25" height="25" viewBox="145 1093 25 25"><path d="M151.60000000000002,1105.3999999999999 L155.3,1109.1999999999998 L162.5,1102.0" fill="none" stroke="#0c2b5e" stroke-width="1.55" stroke-linecap="round" stroke-linejoin="round"/></svg><svg class="s" style="left:183px;top:1089px;" width="34" height="34" viewBox="183 1089 34 34"><defs><clipPath id="avc1089"><rect x="183" y="1089.3999999999999" width="32" height="32" rx="5.5"/></clipPath></defs><g clip-path="url(#avc1089)"><rect x="183" y="1089.3999999999999" width="32" height="32" fill="#e8e2dc"/><rect x="183" y="1089.3999999999999" width="32" height="5" fill="#cfd4da"/><ellipse cx="199" cy="1106.3999999999999" rx="9" ry="11" fill="#2b221e"/><ellipse cx="199" cy="1107.3999999999999" rx="6" ry="8" fill="#d2a88a"/><rect x="187" y="1113.3999999999999" width="24" height="8" fill="#c9c0b8"/></g></svg><svg class="s" style="left:194px;top:1106px;" width="22" height="22" viewBox="194 1106 22 22"><circle cx="205.5" cy="1117.8999999999999" r="10.3" fill="#fff"/><circle cx="205.5" cy="1117.8999999999999" r="9.3" fill="#0a66c2"/><path d="M201.5,1116.8999999999999 L201.5,1122.8999999999999 M205.0,1122.8999999999999 L205.0,1116.8999999999999 M205.0,1119.3999999999999 Q206.5,1116.6999999999998 208.5,1116.8999999999999 Q210.0,1117.1 210.0,1119.3999999999999 L210.0,1122.8999999999999" fill="none" stroke="#fff" stroke-width="1.8"/><circle cx="201.5" cy="1113.8999999999999" r="1.2" fill="#fff"/></svg><div class="t" style="left:228.00px;top:1094.13px;font-size:18.9px;line-height:18.9px;font-weight:400;color:#0c2b5e;letter-spacing:0.367px;">Vivi</div><div class="b" style="left:145.30px;top:1151.20px;width:23.20px;height:23.40px;border:1px solid #dcdfe5;border-radius:3px;box-sizing:border-box;background:#fff"></div><svg class="s" style="left:145px;top:1151px;" width="25" height="25" viewBox="145 1151 25 25"><path d="M151.60000000000002,1163.0 L155.3,1166.8 L162.5,1159.6000000000001" fill="none" stroke="#0c2b5e" stroke-width="1.55" stroke-linecap="round" stroke-linejoin="round"/></svg><svg class="s" style="left:183px;top:1147px;" width="34" height="34" viewBox="183 1147 34 34"><defs><clipPath id="avc1147"><rect x="183" y="1147.0" width="32" height="32" rx="5.5"/></clipPath></defs><g clip-path="url(#avc1147)"><rect x="183" y="1147.0" width="32" height="32" fill="#f3f1d8"/><g opacity="0.55" fill="#eebfcd"><ellipse cx="193.7" cy="1158.8" rx="5.4" ry="3.6" transform="rotate(35 193.7 1158.8)"/><ellipse cx="204.3" cy="1158.8" rx="5.4" ry="3.6" transform="rotate(-35 204.3 1158.8)"/><ellipse cx="195.8" cy="1164.2" rx="3.2" ry="2.6" transform="rotate(30 195.8 1164.2)"/><ellipse cx="202.2" cy="1164.2" rx="3.2" ry="2.6" transform="rotate(-30 202.2 1164.2)"/></g><rect x="192" y="1170.5" width="9" height="1.3" fill="#7d7a6c" opacity="0.6"/></g></svg><svg class="s" style="left:194px;top:1164px;" width="22" height="22" viewBox="194 1164 22 22"><circle cx="205.5" cy="1175.5" r="10.3" fill="#fff"/><circle cx="205.5" cy="1175.5" r="9.3" fill="#1185fe"/><path d="M205.5,1175.5 Q203.5,1171.5 200.5,1171.0 Q199.5,1171.0 200.0,1174.5 Q200.5,1177.0 203.0,1177.0 Q200.5,1178.0 202.0,1180.0 Q204.0,1180.5 205.5,1177.5 Q207.0,1180.5 209.0,1180.0 Q210.5,1178.0 208.0,1177.0 Q210.5,1177.0 211.0,1174.5 Q211.5,1171.0 210.5,1171.0 Q207.5,1171.5 205.5,1175.5 Z" fill="#fff"/></svg><div class="t" style="left:228.00px;top:1151.73px;font-size:18.9px;line-height:18.9px;font-weight:400;color:#0c2b5e;letter-spacing:0.550px;">Vi</div><svg class="s" style="left:246px;top:1147.8px;" width="30" height="28" viewBox="246 1147.8 30 28"><path d="M252.5,1166.8 L252.5,1155.8 Q252.5,1151.8 256,1151.8 Q258.5,1151.8 258.5,1155.8 L258.5,1164.8 Q258.5,1167.8 261.5,1167.8 Q265,1167.8 266,1163.8 Q266.8,1159.8 263.5,1159.8 Q261,1159.8 261,1162.3" fill="none" stroke="#0c2b5e" stroke-width="1.4" stroke-linecap="round"/><path d="M252.5,1166.8 Q252.5,1170.8 256,1170.8 L258,1170.8" fill="none" stroke="#0c2b5e" stroke-width="1.4"/></svg><div class="b" style="left:145.30px;top:1208.80px;width:23.20px;height:23.40px;border:1px solid #dcdfe5;border-radius:3px;box-sizing:border-box;background:#fff"></div><svg class="s" style="left:145px;top:1208px;" width="25" height="25" viewBox="145 1208 25 25"><path d="M151.60000000000002,1220.6 L155.3,1224.3999999999999 L162.5,1217.2" fill="none" stroke="#0c2b5e" stroke-width="1.55" stroke-linecap="round" stroke-linejoin="round"/></svg><svg class="s" style="left:183px;top:1204px;" width="34" height="34" viewBox="183 1204 34 34"><defs><clipPath id="avc1204"><rect x="183" y="1204.6" width="32" height="32" rx="5.5"/></clipPath></defs><g clip-path="url(#avc1204)"><rect x="183" y="1204.6" width="32" height="32" fill="#9fb0bd"/><rect x="183" y="1216.6" width="32" height="10" fill="#3f5f3e"/><rect x="183" y="1226.6" width="32" height="10" fill="#6c7f86"/></g></svg><svg class="s" style="left:194px;top:1222px;" width="22" height="22" viewBox="194 1222 22 22"><circle cx="205.5" cy="1233.1" r="10.3" fill="#fff"/><defs><linearGradient id="ig1233" x1="0" y1="1" x2="1" y2="0"><stop offset="0" stop-color="#fdc151"/><stop offset="0.45" stop-color="#e3366f"/><stop offset="1" stop-color="#7a35c9"/></linearGradient></defs><circle cx="205.5" cy="1233.1" r="9.3" fill="url(#ig1233)"/><rect x="200.5" y="1228.1" width="10" height="10" rx="3" fill="none" stroke="#fff" stroke-width="1.5"/><circle cx="205.5" cy="1233.1" r="2.3" fill="none" stroke="#fff" stroke-width="1.4"/></svg><div class="t" style="left:228.00px;top:1209.33px;font-size:18.9px;line-height:18.9px;font-weight:400;color:#0c2b5e;letter-spacing:0.367px;">Vivi</div><div class="b" style="left:145.30px;top:1266.40px;width:23.20px;height:23.40px;border:1px solid #dcdfe5;border-radius:3px;box-sizing:border-box;background:#fff"></div><svg class="s" style="left:145px;top:1266px;" width="25" height="25" viewBox="145 1266 25 25"><path d="M151.60000000000002,1278.2 L155.3,1282.0 L162.5,1274.8000000000002" fill="none" stroke="#0c2b5e" stroke-width="1.55" stroke-linecap="round" stroke-linejoin="round"/></svg><svg class="s" style="left:183px;top:1262px;" width="34" height="34" viewBox="183 1262 34 34"><defs><clipPath id="avc1262"><rect x="183" y="1262.2" width="32" height="32" rx="5.5"/></clipPath></defs><g clip-path="url(#avc1262)"><rect x="183" y="1262.2" width="32" height="32" fill="#a89886"/><ellipse cx="199" cy="1275.2" rx="11" ry="8" fill="#d9c9a8"/><ellipse cx="199" cy="1284.2" rx="8" ry="9" fill="#e8dcd0"/><rect x="183" y="1286.2" width="32" height="8" fill="#efefef"/></g></svg><svg class="s" style="left:194px;top:1279px;" width="22" height="22" viewBox="194 1279 22 22"><circle cx="205.5" cy="1290.7" r="10.3" fill="#fff"/><circle cx="205.5" cy="1290.7" r="9.3" fill="#000"/><path d="M206.0,1285.7 L206.0,1293.2 Q206.0,1295.7 203.5,1295.7 Q201.0,1295.7 201.0,1293.2 Q201.0,1290.7 203.5,1290.7 M206.0,1285.7 Q207.0,1288.7 209.5,1288.7" fill="none" stroke="#fff" stroke-width="1.7"/></svg><div class="t" style="left:228.00px;top:1266.93px;font-size:18.9px;line-height:18.9px;font-weight:400;color:#0c2b5e;letter-spacing:1.350px;">vi</div><svg class="s" style="left:244px;top:1263.0px;" width="30" height="28" viewBox="244 1263.0 30 28"><path d="M248,1270.0 Q251,1271.0 251,1276.0 Q251,1281.0 248,1282.0 M258,1270.0 Q255,1271.0 255,1276.0 Q255,1281.0 258,1282.0 M249,1276.0 L257,1276.0 M252,1269.0 L252,1283.0" fill="none" stroke="#0c2b5e" stroke-width="1.5"/></svg><div class="b" style="left:145.30px;top:1324.00px;width:23.20px;height:23.40px;border:1px solid #dcdfe5;border-radius:3px;box-sizing:border-box;background:#fff"></div><svg class="s" style="left:145px;top:1324px;" width="25" height="25" viewBox="145 1324 25 25"><path d="M151.60000000000002,1335.8 L155.3,1339.6 L162.5,1332.4" fill="none" stroke="#0c2b5e" stroke-width="1.55" stroke-linecap="round" stroke-linejoin="round"/></svg><svg class="s" style="left:183px;top:1319px;" width="34" height="34" viewBox="183 1319 34 34"><defs><clipPath id="avc1319"><rect x="183" y="1319.8" width="32" height="32" rx="5.5"/></clipPath></defs><g clip-path="url(#avc1319)"><rect x="183" y="1319.8" width="32" height="32" fill="#3b3b40"/><rect x="203" y="1319.8" width="12" height="20" fill="#2a3548"/><ellipse cx="197" cy="1337.8" rx="7" ry="8" fill="#9c7b66"/><rect x="186" y="1341.8" width="22" height="10" fill="#4f6aa0"/></g></svg><svg class="s" style="left:194px;top:1337px;" width="22" height="22" viewBox="194 1337 22 22"><circle cx="205.5" cy="1348.3" r="10.3" fill="#fff"/><circle cx="205.5" cy="1348.3" r="9.3" fill="#000"/><path d="M201.0,1343.3 L210.0,1353.3 M210.0,1343.3 L201.0,1353.3" stroke="#fff" stroke-width="1.3"/></svg><div class="t" style="left:228.00px;top:1324.53px;font-size:18.9px;line-height:18.9px;font-weight:400;color:#0c2b5e;letter-spacing:1.073px;">Vie Ventanilla</div><div class="b" style="left:145.30px;top:1381.60px;width:23.20px;height:23.40px;border:1px solid #dcdfe5;border-radius:3px;box-sizing:border-box;background:#fff"></div><svg class="s" style="left:145px;top:1381px;" width="25" height="25" viewBox="145 1381 25 25"><path d="M151.60000000000002,1393.3999999999999 L155.3,1397.1999999999998 L162.5,1390.0" fill="none" stroke="#0c2b5e" stroke-width="1.55" stroke-linecap="round" stroke-linejoin="round"/></svg><svg class="s" style="left:183px;top:1377px;" width="34" height="34" viewBox="183 1377 34 34"><defs><clipPath id="avc1377"><rect x="183" y="1377.3999999999999" width="32" height="32" rx="5.5"/></clipPath></defs><g clip-path="url(#avc1377)"><rect x="183" y="1377.3999999999999" width="32" height="32" fill="#0a0a0a"/><ellipse cx="199" cy="1392.3999999999999" rx="5" ry="6" fill="#8f8f8f"/><ellipse cx="199" cy="1405.3999999999999" rx="9" ry="7" fill="#3f3f3f"/></g></svg><svg class="s" style="left:194px;top:1394px;" width="22" height="22" viewBox="194 1394 22 22"><circle cx="205.5" cy="1405.8999999999999" r="10.3" fill="#fff"/><circle cx="205.5" cy="1405.8999999999999" r="9.3" fill="#ff1a1a"/><rect x="200.0" y="1402.3999999999999" width="11" height="7.5" rx="2" fill="#fff"/><path d="M204.0,1403.8999999999999 L208.0,1406.1999999999998 L204.0,1408.3999999999999 Z" fill="#ff1a1a"/></svg><div class="t" style="left:228.00px;top:1382.13px;font-size:18.9px;line-height:18.9px;font-weight:400;color:#0c2b5e;letter-spacing:0.367px;">Vivi</div>
<div class="b" style="left:415.00px;top:600.00px;width:65.00px;height:80.00px;background:radial-gradient(closest-side, rgba(252,236,220,0.35), rgba(255,255,255,0));"></div>
<div class="b" style="left:481.00px;top:0.00px;width:639.00px;height:1431.00px;background:#f4f7fc"></div>
<div class="b" style="left:1120.00px;top:0.00px;width:1.00px;height:1431.00px;background:#e4e7ec"></div>
<div class="t" style="left:507.00px;top:28.50px;font-size:22.7px;line-height:22.7px;font-weight:700;color:#0c2b5e;letter-spacing:0.280px;">Active listeners</div>
<svg class="s" style="left:695px;top:33px;" width="22" height="14" viewBox="695 33 22 14"><path d="M699.3,36.3 L712.5,36.3 L705.9,43.8 Z" fill="#0c2b5e"/></svg>
<svg class="s" style="left:915px;top:28px;" width="28" height="26" viewBox="915 28 28 26"><path d="M929,32.2 L929,49.6 M920.2,40.9 L937.8,40.9" stroke="#0b63e5" stroke-width="2.3" stroke-linecap="round"/></svg>
<div class="t" style="left:958.00px;top:27.96px;font-size:23.1px;line-height:23.1px;font-weight:700;color:#0b63e5;letter-spacing:0.191px;">Add listener</div>
<div class="b" style="left:506.40px;top:89.00px;width:587.60px;height:127.50px;background:#f4f7fc;border-radius:9px;border:1px solid #dde1e7;box-sizing:border-box;box-shadow:inset 0 0 3px 1px rgba(30,40,60,0.10)"></div>
<div class="t" style="left:532.40px;top:124.87px;font-size:23.8px;line-height:23.8px;font-weight:400;color:#0c2b5e;letter-spacing:0.450px;">Positive messages</div>
<div class="t" style="left:532.40px;top:163.53px;font-size:16.9px;line-height:16.9px;font-weight:400;color:#6c7a8d;letter-spacing:0.328px;-webkit-text-stroke:0.35px currentColor;">20 results</div>
<div class="t" style="left:974.00px;top:163.86px;font-size:16.4px;line-height:16.4px;font-weight:400;color:#6c7a8d;letter-spacing:0.740px;-webkit-text-stroke:0.35px currentColor;">2 hours ago</div>
<svg class="s" style="left:1010px;top:119px;" width="62" height="30" viewBox="1010 119 62 30"><circle cx="1021" cy="129.2" r="2.9" fill="none" stroke="#8a93a3" stroke-width="1.6"/><circle cx="1032.5" cy="125.2" r="2.9" fill="none" stroke="#8a93a3" stroke-width="1.6"/><path d="M1015,144.6 Q1015,135.2 1021.5,135.2 Q1028,135.2 1028,144.6 Z" fill="none" stroke="#8a93a3" stroke-width="1.6" stroke-linejoin="round"/><path d="M1026.5,134 Q1028.5,131.2 1032.5,131.2 Q1038.4,131.2 1038.4,140.2 L1033.5,140.2" fill="none" stroke="#8a93a3" stroke-width="1.6"/><circle cx="1063.9" cy="127" r="2" fill="none" stroke="#8a93a3" stroke-width="1.4"/><circle cx="1063.9" cy="133.8" r="2" fill="none" stroke="#8a93a3" stroke-width="1.4"/><circle cx="1063.9" cy="140.6" r="2" fill="none" stroke="#8a93a3" stroke-width="1.4"/></svg>
<div class="b" style="left:506.40px;top:230.00px;width:587.60px;height:127.50px;background:#ffffff;border-radius:11px"></div>
<div class="t" style="left:532.40px;top:265.87px;font-size:23.8px;line-height:23.8px;font-weight:400;color:#0c2b5e;letter-spacing:0.675px;">Query</div>
<div class="t" style="left:532.40px;top:304.53px;font-size:16.9px;line-height:16.9px;font-weight:400;color:#6c7a8d;letter-spacing:0.331px;-webkit-text-stroke:0.35px currentColor;">3 results</div>
<div class="t" style="left:974.00px;top:304.86px;font-size:16.4px;line-height:16.4px;font-weight:400;color:#6c7a8d;letter-spacing:0.740px;-webkit-text-stroke:0.35px currentColor;">2 hours ago</div>
<svg class="s" style="left:1010px;top:260px;" width="62" height="30" viewBox="1010 260 62 30"><circle cx="1021" cy="270.2" r="2.9" fill="none" stroke="#8a93a3" stroke-width="1.6"/><circle cx="1032.5" cy="266.2" r="2.9" fill="none" stroke="#8a93a3" stroke-width="1.6"/><path d="M1015,285.6 Q1015,276.2 1021.5,276.2 Q1028,276.2 1028,285.6 Z" fill="none" stroke="#8a93a3" stroke-width="1.6" stroke-linejoin="round"/><path d="M1026.5,275 Q1028.5,272.2 1032.5,272.2 Q1038.4,272.2 1038.4,281.2 L1033.5,281.2" fill="none" stroke="#8a93a3" stroke-width="1.6"/><circle cx="1063.9" cy="268" r="2" fill="none" stroke="#8a93a3" stroke-width="1.4"/><circle cx="1063.9" cy="274.8" r="2" fill="none" stroke="#8a93a3" stroke-width="1.4"/><circle cx="1063.9" cy="281.6" r="2" fill="none" stroke="#8a93a3" stroke-width="1.4"/></svg>
<div class="b" style="left:506.40px;top:371.00px;width:587.60px;height:127.50px;background:#ffffff;border-radius:11px"></div>
<div class="t" style="left:532.40px;top:406.87px;font-size:23.8px;line-height:23.8px;font-weight:400;color:#0c2b5e;letter-spacing:0.375px;">Details</div>
<div class="t" style="left:532.40px;top:445.53px;font-size:16.9px;line-height:16.9px;font-weight:400;color:#6c7a8d;letter-spacing:0.472px;-webkit-text-stroke:0.35px currentColor;">no results</div>
<div class="t" style="left:974.00px;top:445.86px;font-size:16.4px;line-height:16.4px;font-weight:400;color:#6c7a8d;letter-spacing:0.740px;-webkit-text-stroke:0.35px currentColor;">2 hours ago</div>
<svg class="s" style="left:1010px;top:401px;" width="62" height="30" viewBox="1010 401 62 30"><circle cx="1021" cy="411.2" r="2.9" fill="none" stroke="#8a93a3" stroke-width="1.6"/><circle cx="1032.5" cy="407.2" r="2.9" fill="none" stroke="#8a93a3" stroke-width="1.6"/><path d="M1015,426.6 Q1015,417.2 1021.5,417.2 Q1028,417.2 1028,426.6 Z" fill="none" stroke="#8a93a3" stroke-width="1.6" stroke-linejoin="round"/><path d="M1026.5,416 Q1028.5,413.2 1032.5,413.2 Q1038.4,413.2 1038.4,422.2 L1033.5,422.2" fill="none" stroke="#8a93a3" stroke-width="1.6"/><circle cx="1063.9" cy="409" r="2" fill="none" stroke="#8a93a3" stroke-width="1.4"/><circle cx="1063.9" cy="415.8" r="2" fill="none" stroke="#8a93a3" stroke-width="1.4"/><circle cx="1063.9" cy="422.6" r="2" fill="none" stroke="#8a93a3" stroke-width="1.4"/></svg>
<div class="b" style="left:506.40px;top:512.00px;width:587.60px;height:127.50px;background:#ffffff;border-radius:11px"></div>
<div class="t" style="left:532.40px;top:547.87px;font-size:23.8px;line-height:23.8px;font-weight:400;color:#0c2b5e;letter-spacing:0.508px;">Inquiry</div>
<div class="t" style="left:532.40px;top:586.53px;font-size:16.9px;line-height:16.9px;font-weight:400;color:#6c7a8d;letter-spacing:0.472px;-webkit-text-stroke:0.35px currentColor;">no results</div>
<div class="t" style="left:974.00px;top:586.86px;font-size:16.4px;line-height:16.4px;font-weight:400;color:#6c7a8d;letter-spacing:0.740px;-webkit-text-stroke:0.35px currentColor;">2 hours ago</div>
<svg class="s" style="left:1010px;top:542px;" width="62" height="30" viewBox="1010 542 62 30"><circle cx="1021" cy="552.2" r="2.9" fill="none" stroke="#8a93a3" stroke-width="1.6"/><circle cx="1032.5" cy="548.2" r="2.9" fill="none" stroke="#8a93a3" stroke-width="1.6"/><path d="M1015,567.6 Q1015,558.2 1021.5,558.2 Q1028,558.2 1028,567.6 Z" fill="none" stroke="#8a93a3" stroke-width="1.6" stroke-linejoin="round"/><path d="M1026.5,557 Q1028.5,554.2 1032.5,554.2 Q1038.4,554.2 1038.4,563.2 L1033.5,563.2" fill="none" stroke="#8a93a3" stroke-width="1.6"/><circle cx="1063.9" cy="550" r="2" fill="none" stroke="#8a93a3" stroke-width="1.4"/><circle cx="1063.9" cy="556.8" r="2" fill="none" stroke="#8a93a3" stroke-width="1.4"/><circle cx="1063.9" cy="563.6" r="2" fill="none" stroke="#8a93a3" stroke-width="1.4"/></svg>
<div class="b" style="left:506.40px;top:653.00px;width:587.60px;height:127.50px;background:#ffffff;border-radius:11px"></div>
<div class="t" style="left:532.40px;top:688.87px;font-size:23.8px;line-height:23.8px;font-weight:400;color:#0c2b5e;letter-spacing:0.681px;">Negative Feedback</div>
<div class="t" style="left:532.40px;top:727.53px;font-size:16.9px;line-height:16.9px;font-weight:400;color:#6c7a8d;letter-spacing:0.472px;-webkit-text-stroke:0.35px currentColor;">no results</div>
<div class="t" style="left:974.00px;top:727.86px;font-size:16.4px;line-height:16.4px;font-weight:400;color:#6c7a8d;letter-spacing:0.740px;-webkit-text-stroke:0.35px currentColor;">2 hours ago</div>
<svg class="s" style="left:1010px;top:683px;" width="62" height="30" viewBox="1010 683 62 30"><circle cx="1021" cy="693.2" r="2.9" fill="none" stroke="#8a93a3" stroke-width="1.6"/><circle cx="1032.5" cy="689.2" r="2.9" fill="none" stroke="#8a93a3" stroke-width="1.6"/><path d="M1015,708.6 Q1015,699.2 1021.5,699.2 Q1028,699.2 1028,708.6 Z" fill="none" stroke="#8a93a3" stroke-width="1.6" stroke-linejoin="round"/><path d="M1026.5,698 Q1028.5,695.2 1032.5,695.2 Q1038.4,695.2 1038.4,704.2 L1033.5,704.2" fill="none" stroke="#8a93a3" stroke-width="1.6"/><circle cx="1063.9" cy="691" r="2" fill="none" stroke="#8a93a3" stroke-width="1.4"/><circle cx="1063.9" cy="697.8" r="2" fill="none" stroke="#8a93a3" stroke-width="1.4"/><circle cx="1063.9" cy="704.6" r="2" fill="none" stroke="#8a93a3" stroke-width="1.4"/></svg>
<div class="b" style="left:517.00px;top:106.00px;width:241.60px;height:97.70px;border:4px solid #0b69ee;border-radius:2px;box-sizing:border-box"></div>
<div class="b" style="left:1121.00px;top:0.00px;width:1726.00px;height:124.00px;background:#f4f7fc"></div>
<div class="b" style="left:1121.00px;top:124.00px;width:1726.00px;height:1307.00px;background:#ffffff"></div>
<div class="b" style="left:1121.00px;top:150.00px;width:1726.00px;height:1.00px;background:#eceef2"></div>
<div class="t" style="left:1147.60px;top:24.86px;font-size:25.7px;line-height:25.7px;font-weight:700;color:#0c2b5e;letter-spacing:0.438px;">Positive messages</div>
<div class="t" style="left:1147.60px;top:75.29px;font-size:26.6px;line-height:26.6px;font-weight:400;color:#1565d8;letter-spacing:1.130px;">Performance</div>
<div class="t" style="left:1338.60px;top:75.29px;font-size:26.6px;line-height:26.6px;font-weight:400;color:#6b7a8f;letter-spacing:-0.033px;">Results</div>
<div class="b" style="left:1146.00px;top:120.70px;width:165.80px;height:3.20px;background:#1565d8;border-radius:1px"></div>
<div class="b" style="left:2469.20px;top:5.00px;width:270.20px;height:64.50px;background:#f4f7fc;border:1px solid #e3e7ee;border-radius:10px;box-sizing:border-box"></div>
<div class="t" style="left:2483.50px;top:26.00px;font-size:20px;line-height:20px;font-weight:400;color:#0c2b5e;letter-spacing:0.060px;">Jan 12, 2025 - Feb 9, 2025</div>
<svg class="s" style="left:2760px;top:20px;" width="80" height="35" viewBox="2760 20 80 35"><circle cx="2777.8" cy="37.8" r="12.6" fill="#cbcbcb"/>
<circle cx="2777.8" cy="30.8" r="1.9" fill="#fff"/><path d="M2775.2,35.2 L2778.8,35.2 L2778.8,45 L2775.6,45 Z M2774.6,45 L2780.8,45" stroke="#fff" stroke-width="1.6" fill="#fff"/>
<circle cx="2827" cy="31.2" r="2.1" fill="none" stroke="#8a8f99" stroke-width="1.3"/>
<circle cx="2827" cy="38.2" r="2.1" fill="none" stroke="#8a8f99" stroke-width="1.3"/>
<circle cx="2827" cy="45.2" r="2.1" fill="none" stroke="#8a8f99" stroke-width="1.3"/></svg>
<div class="b" style="left:2844.60px;top:155.00px;width:2.40px;height:637.50px;background:#c6c6c6;border-radius:2px 0 0 2px"></div>
<div class="b" style="left:1146.00px;top:176.40px;width:836.30px;height:206.20px;background:#fff;border-radius:11px;box-shadow:0 3px 14px rgba(30,40,70,0.07)"></div>
<div class="b" style="left:1996.00px;top:175.80px;width:836.70px;height:206.50px;background:#fff;border-radius:11px;box-shadow:0 3px 14px rgba(30,40,70,0.07)"></div>
<div class="b" style="left:1159.40px;top:188.70px;width:50.60px;height:51.30px;background:#f1eafa;border-radius:9px"></div>
<svg class="s" style="left:1170px;top:195px;" width="30" height="40" viewBox="1170 195 30 40"><path d="M1175.6,201 L1188,201 L1194.5,207.5 L1194.5,228 L1175.6,228 Z" fill="none" stroke="#8c4fd1" stroke-width="1.5" stroke-linejoin="round"/>
<path d="M1188,201 L1188,207.5 L1194.5,207.5" fill="none" stroke="#8c4fd1" stroke-width="1.3"/>
<path d="M1179,212.5 L1180.5,212.5 M1182.5,212.5 L1191,212.5 M1179,216.5 L1180.5,216.5 M1182.5,216.5 L1191,216.5 M1179,220.5 L1180.5,220.5 M1182.5,220.5 L1191,220.5 M1179,224.3 L1180.5,224.3 M1182.5,224.3 L1191,224.3" stroke="#8c4fd1" stroke-width="1.2"/></svg>
<div class="t" style="left:1236.00px;top:202.22px;font-size:23.5px;line-height:23.5px;font-weight:600;color:#0c2b5e;letter-spacing:0.000px;transform:scaleX(0.9376);transform-origin:0 0;">Results</div>
<div class="t" style="left:1160.00px;top:259.55px;font-size:37px;line-height:37px;font-weight:400;color:#0c2b5e;letter-spacing:0.000px;-webkit-text-stroke:0.5px currentColor;transform:scaleX(0.7242);transform-origin:0 0;">12</div>
<svg class="s" style="left:1162px;top:335px;" width="32" height="32" viewBox="1162 335 32 32"><path d="M1168.5,360.5 L1189,340.8 M1174.5,341 L1189.2,341 L1189.2,355.5" fill="none" stroke="#1bb380" stroke-width="2.6" stroke-linecap="round" stroke-linejoin="round"/></svg>
<div class="t" style="left:1211.80px;top:336.44px;font-size:26.3px;line-height:26.3px;font-weight:700;color:#0c2b5e;letter-spacing:0.000px;transform:scaleX(0.8735);transform-origin:0 0;">+71%</div>
<div class="t" style="left:1285.00px;top:338.21px;font-size:21.4px;line-height:21.4px;font-weight:400;color:#1b2433;letter-spacing:0.000px;transform:scaleX(0.9057);transform-origin:0 0;">vs Dec 14-Jan 11</div>
<div class="b" style="left:2009.00px;top:189.80px;width:50.70px;height:49.80px;background:#e6edfa;border-radius:9px"></div>
<svg class="s" style="left:2015px;top:195px;" width="40" height="40" viewBox="2015 195 40 40"><circle cx="2034.4" cy="214.7" r="11.8" fill="none" stroke="#2f62d3" stroke-width="1.6"/>
<circle cx="2030.3" cy="211.2" r="1.6" fill="#2f62d3"/><circle cx="2038.5" cy="211.2" r="1.6" fill="#2f62d3"/>
<path d="M2029.8,216.8 L2039,216.8 Q2038.5,221.5 2034.4,221.5 Q2030.3,221.5 2029.8,216.8 Z" fill="#2f62d3"/></svg>
<div class="t" style="left:2085.80px;top:202.03px;font-size:23.5px;line-height:23.5px;font-weight:600;color:#0c2b5e;letter-spacing:-0.085px;">Positive sentiment</div>
<div class="t" style="left:2010.00px;top:259.25px;font-size:37px;line-height:37px;font-weight:400;color:#0c2b5e;letter-spacing:0.000px;-webkit-text-stroke:0.5px currentColor;transform:scaleX(0.8598);transform-origin:0 0;">0%</div>
<div class="t" style="left:1147.20px;top:438.69px;font-size:27.3px;line-height:27.3px;font-weight:700;color:#0c2b5e;letter-spacing:0.000px;transform:scaleX(0.9701);transform-origin:0 0;">Total results</div>
<div class="t" style="left:1147.00px;top:489.19px;font-size:23.3px;line-height:23.3px;font-weight:400;color:#6b7a8f;letter-spacing:0.905px;">Results by date within current date range</div>
<div class="t" style="left:1162.20px;top:1069.44px;font-size:17.6px;line-height:17.6px;font-weight:400;color:#0c2b5e;letter-spacing:0.000px;">0</div>
<div class="b" style="left:1197.00px;top:954.00px;width:1650.00px;height:1.00px;background:#e6e6e6"></div>
<div class="t" style="left:1162.20px;top:946.24px;font-size:17.6px;line-height:17.6px;font-weight:400;color:#0c2b5e;letter-spacing:0.000px;">1</div>
<div class="b" style="left:1197.00px;top:832.70px;width:1650.00px;height:1.00px;background:#e6e6e6"></div>
<div class="t" style="left:1162.20px;top:824.94px;font-size:17.6px;line-height:17.6px;font-weight:400;color:#0c2b5e;letter-spacing:0.000px;">2</div>
<div class="b" style="left:1197.00px;top:709.50px;width:1650.00px;height:1.00px;background:#e6e6e6"></div>
<div class="t" style="left:1162.20px;top:701.74px;font-size:17.6px;line-height:17.6px;font-weight:400;color:#0c2b5e;letter-spacing:0.000px;">3</div>
<div class="b" style="left:1197.00px;top:584.60px;width:1650.00px;height:1.00px;background:#e6e6e6"></div>
<div class="t" style="left:1162.20px;top:576.84px;font-size:17.6px;line-height:17.6px;font-weight:400;color:#0c2b5e;letter-spacing:0.000px;">4</div>
<div class="b" style="left:1197.00px;top:1077.00px;width:1650.00px;height:1.60px;background:#ccd6eb"></div>
<div class="b" style="left:1283.70px;top:1078.00px;width:1.00px;height:14.20px;background:#ccd6eb"></div>
<div class="t" style="left:1253.67px;top:1092.24px;font-size:18.3px;line-height:18.3px;font-weight:400;color:#0c2b5e;letter-spacing:0.000px;">16. Dec</div>
<div class="b" style="left:1483.88px;top:1078.00px;width:1.00px;height:14.20px;background:#ccd6eb"></div>
<div class="t" style="left:1453.86px;top:1092.24px;font-size:18.3px;line-height:18.3px;font-weight:400;color:#0c2b5e;letter-spacing:0.000px;">23. Dec</div>
<div class="b" style="left:1684.06px;top:1078.00px;width:1.00px;height:14.20px;background:#ccd6eb"></div>
<div class="t" style="left:1654.03px;top:1092.24px;font-size:18.3px;line-height:18.3px;font-weight:400;color:#0c2b5e;letter-spacing:0.000px;">30. Dec</div>
<div class="b" style="left:1884.24px;top:1078.00px;width:1.00px;height:14.20px;background:#ccd6eb"></div>
<div class="t" style="left:1860.82px;top:1092.24px;font-size:18.3px;line-height:18.3px;font-weight:400;color:#0c2b5e;letter-spacing:0.000px;">6. Jan</div>
<div class="b" style="left:2084.42px;top:1078.00px;width:1.00px;height:14.20px;background:#ccd6eb"></div>
<div class="t" style="left:2055.89px;top:1092.24px;font-size:18.3px;line-height:18.3px;font-weight:400;color:#0c2b5e;letter-spacing:0.000px;">13. Jan</div>
<div class="b" style="left:2284.60px;top:1078.00px;width:1.00px;height:14.20px;background:#ccd6eb"></div>
<div class="t" style="left:2256.08px;top:1092.24px;font-size:18.3px;line-height:18.3px;font-weight:400;color:#0c2b5e;letter-spacing:0.000px;">20. Jan</div>
<div class="b" style="left:2484.78px;top:1078.00px;width:1.00px;height:14.20px;background:#ccd6eb"></div>
<div class="t" style="left:2456.25px;top:1092.24px;font-size:18.3px;line-height:18.3px;font-weight:400;color:#0c2b5e;letter-spacing:0.000px;">27. Jan</div>
<div class="b" style="left:2684.96px;top:1078.00px;width:1.00px;height:14.20px;background:#ccd6eb"></div>
<div class="t" style="left:2660.51px;top:1092.24px;font-size:18.3px;line-height:18.3px;font-weight:400;color:#0c2b5e;letter-spacing:0.000px;">3. Feb</div>
<div class="b" style="left:2885.14px;top:1078.00px;width:1.00px;height:14.20px;background:#ccd6eb"></div>
<div class="t" style="left:2826.00px;top:1092.24px;font-size:18.3px;line-height:18.3px;font-weight:400;color:#0c2b5e;letter-spacing:0.000px;">10. Feb</div>
<div class="b" style="left:2050.00px;top:955.50px;width:12.80px;height:122.20px;background:#7cb5ec"></div>
<div class="b" style="left:2135.79px;top:955.50px;width:12.80px;height:122.20px;background:#7cb5ec"></div>
<div class="b" style="left:2278.78px;top:955.50px;width:12.80px;height:122.20px;background:#7cb5ec"></div>
<div class="b" style="left:2307.38px;top:955.50px;width:12.80px;height:122.20px;background:#7cb5ec"></div>
<div class="b" style="left:2335.97px;top:711.00px;width:12.80px;height:366.70px;background:#7cb5ec"></div>
<div class="b" style="left:2364.57px;top:834.20px;width:12.80px;height:243.50px;background:#7cb5ec"></div>
<div class="b" style="left:2393.17px;top:955.50px;width:12.80px;height:122.20px;background:#7cb5ec"></div>
<div class="b" style="left:2764.93px;top:955.50px;width:12.80px;height:122.20px;background:#7cb5ec"></div>
<svg class="s" style="left:1970px;top:1138px;" width="28" height="26" viewBox="1970 1138 28 26"><circle cx="1984.4" cy="1150.7" r="9.4" fill="#7cb5ec"/></svg>
<div class="t" style="left:2006.70px;top:1141.73px;font-size:20.2px;line-height:20.2px;font-weight:700;color:#0c2b5e;letter-spacing:0.000px;transform:scaleX(0.9596);transform-origin:0 0;">Results</div>
<div class="t" style="left:1147.80px;top:1339.63px;font-size:26.2px;line-height:26.2px;font-weight:600;color:#0c2b5e;letter-spacing:0.000px;transform:scaleX(0.9445);transform-origin:0 0;">Results</div>
<div class="t" style="left:2066.40px;top:1339.63px;font-size:26.2px;line-height:26.2px;font-weight:600;color:#0c2b5e;letter-spacing:0.165px;">Impressions</div>
<div class="b" style="left:1127.00px;top:2.00px;width:1695.70px;height:1399.80px;border-style:solid;border-color:#3351f6;border-width:8px 8.7px 7.8px 8.7px;border-radius:3px;box-sizing:border-box"></div>
<svg class="s" style="left:860px;top:55px;" width="270" height="60" viewBox="860 55 270 60"><path d="M873.5,84.6 L1085.3,76.1 L1084,65.8 L1123.5,85.9 L1084,104.9 L1085.3,95.2 L873.5,87.6 Q871.6,86.1 873.5,84.6 Z" fill="#3351f6" stroke="#3351f6" stroke-width="0.8" stroke-linejoin="round"/></svg>
</body></html>
